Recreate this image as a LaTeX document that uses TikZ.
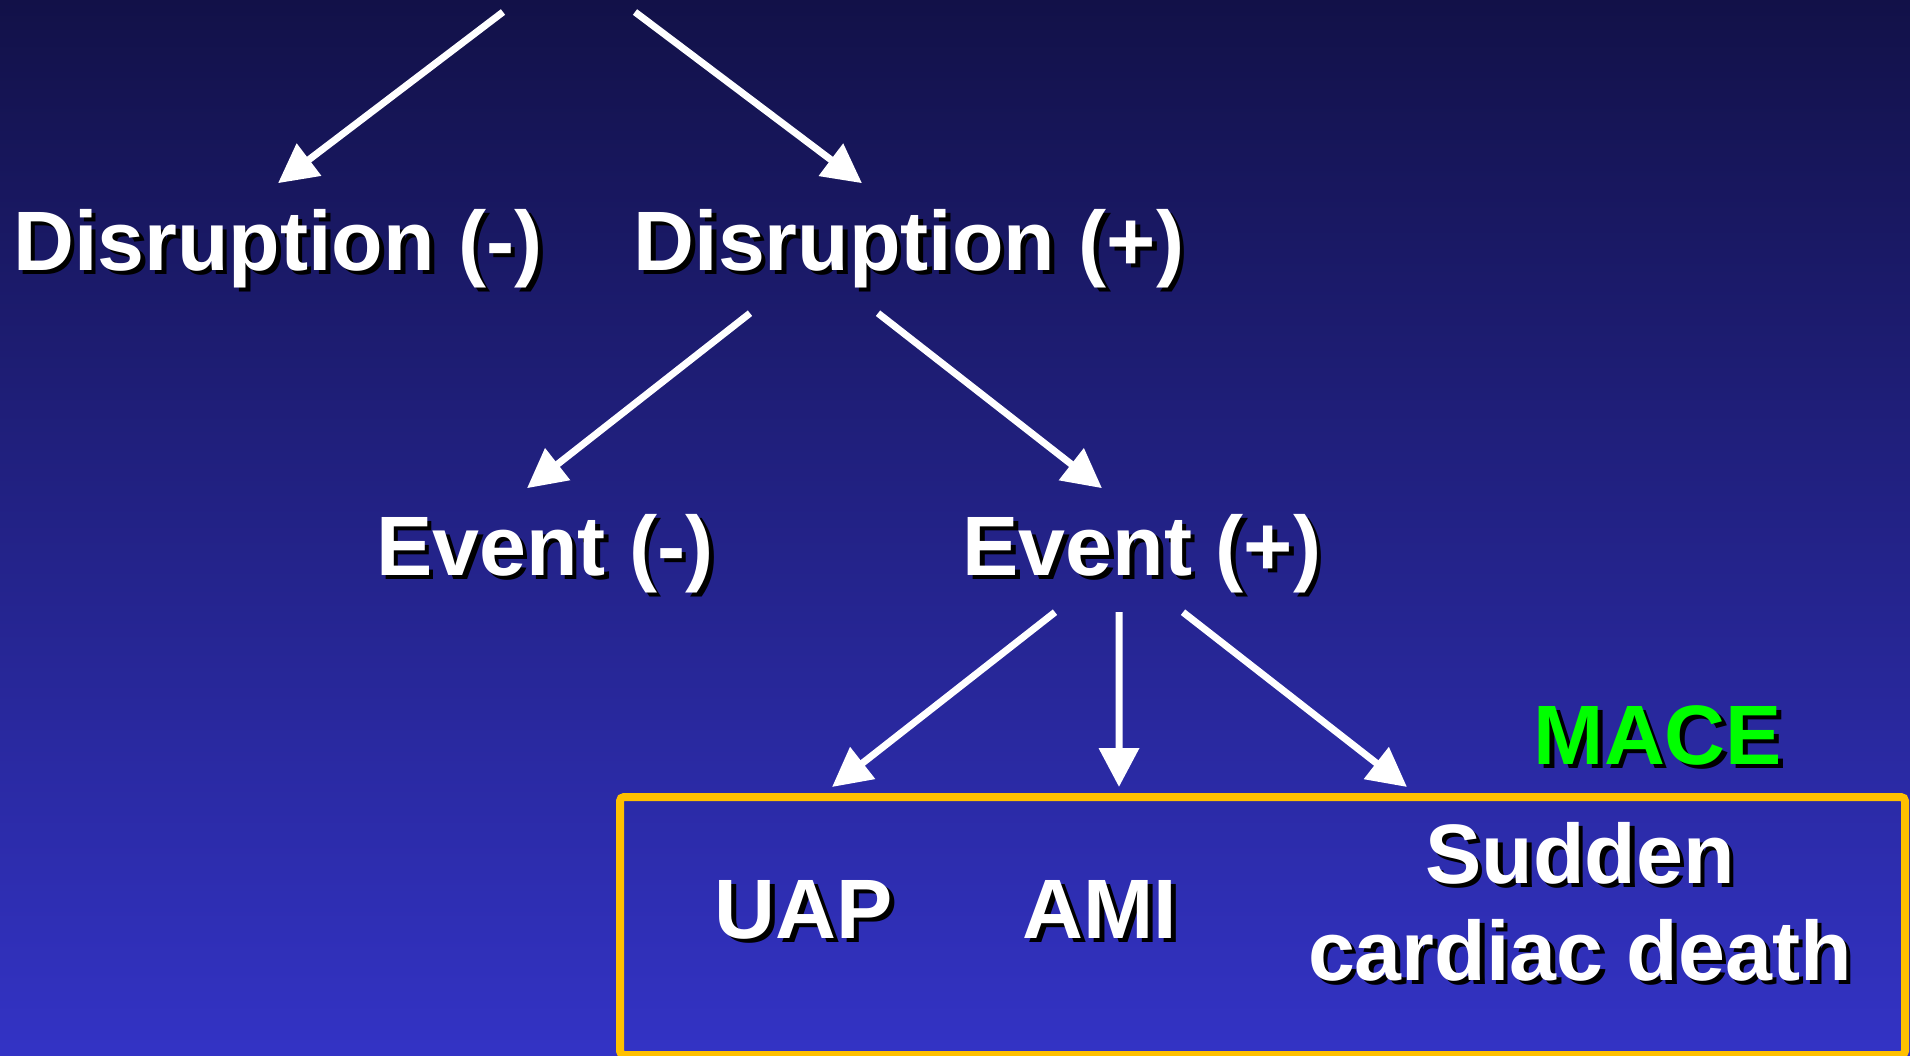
\documentclass[tikz,border=0pt]{standalone}
\usepackage{fontspec}
\setmainfont{Liberation Sans}
\usepackage{tikz}
\usetikzlibrary{arrows.meta}
\definecolor{bgtop}{HTML}{121148}
\definecolor{bgbot}{HTML}{3333C5}
\definecolor{boxgold}{HTML}{FFC000}
\definecolor{macegreen}{HTML}{00FF00}
\newcommand{\shadowtext}[1]{\rlap{\kern0.045cm\raisebox{-0.045cm}[0pt][0pt]{\color{black}#1}}#1}

\begin{document}
\begin{tikzpicture}[
		slidetext/.style={text=white, font=\bfseries\fontsize{24pt}{27.5pt}\selectfont, inner xsep=0pt, inner ysep=0.25cm, anchor=base},
		whitearrow/.style={draw=white, line width=0.07cm, -{Triangle[length=0.39cm, width=0.39cm]}}
	]
		\useasboundingbox (0,0) rectangle (19.10,10.55);
		\shade[top color=bgtop, bottom color=bgbot] (0,0) rectangle (19.10,10.55);

		\coordinate (TOP) at (5.69,10.43);

		\node[slidetext] (DMINUS) at (2.78,7.85) {\shadowtext{Disruption (-)}};
		\node[slidetext] (DPLUS) at (9.09,7.85) {\shadowtext{Disruption (+)}};
		\node[slidetext] (EMINUS) at (5.45,4.80) {\shadowtext{Event (-)}};
		\node[slidetext] (EPLUS) at (11.42,4.80) {\shadowtext{Event (+)}};
		\node[slidetext, text=macegreen] (MACE) at (16.58,2.91) {\shadowtext{MACE}};

		\node[draw=boxgold, line width=0.08cm, rounded corners=0.04cm, minimum width=12.85cm, minimum height=2.58cm, inner sep=0pt, outer sep=0pt, anchor=south west] (MACEBOX) at (6.20,0) {};
		\node[slidetext] (UAP) at (8.04,1.17) {\shadowtext{UAP}};
		\node[slidetext] (AMI) at (11.00,1.17) {\shadowtext{AMI}};
		% base of a two-line node is its last line
		\node[slidetext, align=center] (SCD) at (15.80,0.75) {\shadowtext{Sudden}\\\shadowtext{cardiac death}};

		\draw[whitearrow] ([xshift=-0.66cm]TOP) -- (DMINUS.north);
		\draw[whitearrow] ([xshift=0.66cm]TOP) -- ([xshift=-0.47cm]DPLUS.north);
		\draw[whitearrow] ([xshift=-1.59cm]DPLUS.south) -- ([xshift=-0.18cm]EMINUS.north);
		\draw[whitearrow] ([xshift=-0.31cm]DPLUS.south) -- ([xshift=-0.40cm]EPLUS.north);
		\draw[whitearrow] ([xshift=-0.87cm, yshift=0.06cm]EPLUS.south) -- ([xshift=-4.305cm, yshift=0.10cm]MACEBOX.north);
		\draw[whitearrow] ([xshift=-0.23cm, yshift=0.06cm]EPLUS.south) -- ([xshift=-1.435cm, yshift=0.10cm]MACEBOX.north);
		\draw[whitearrow] ([xshift=0.41cm, yshift=0.06cm]EPLUS.south) -- ([xshift=1.445cm, yshift=0.10cm]MACEBOX.north);

	\end{tikzpicture}
\end{document}
